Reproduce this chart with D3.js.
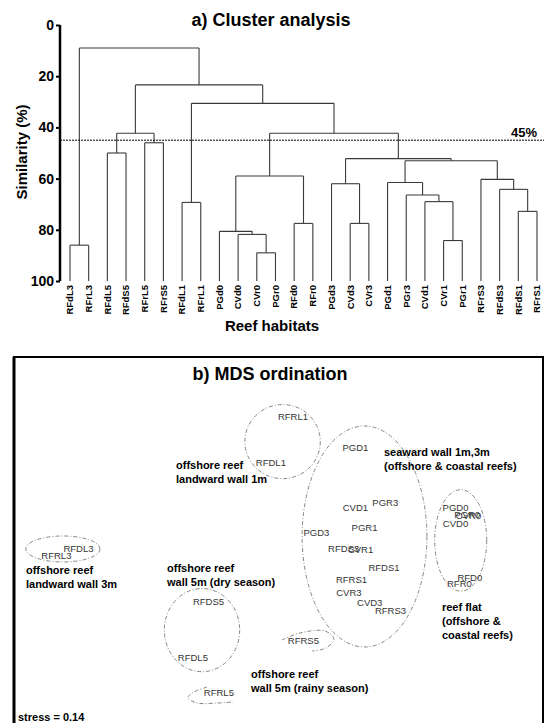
<!DOCTYPE html>
<html>
<head>
<meta charset="utf-8">
<script src="https://cdnjs.cloudflare.com/ajax/libs/d3/7.8.5/d3.min.js"></script>
<style>
body { margin: 0; background: #fff; }
svg { display: block; font-family: "Liberation Sans", Arial, sans-serif; }
</style>
</head>
<body>
<div id="chart"></div>
<script>

//Leaf order of the dendrogram
var leaves = ["RFdL3","RFrL3","RFdL5","RFdS5","RFrL5","RFrS5","RFdL1","RFrL1",
    "PGd0","CVd0","CVr0","PGr0","RFd0","RFr0","PGd3","CVd3","CVr3",
    "PGd1","PGr3","CVd1","CVr1","PGr1","RFrS3","RFdS3","RFdS1","RFrS1"];

//Merges: [child a, child b, similarity %] - merged node i is named "n" + (i+1)
var merges = [
    ["RFdL3","RFrL3",86],
    ["RFdL5","RFdS5",50],
    ["RFrL5","RFrS5",46],
    ["n2","n3",42.3],
    ["RFdL1","RFrL1",69.3],
    ["CVr0","PGr0",89],
    ["CVd0","n6",81.8],
    ["PGd0","n7",80.6],
    ["RFd0","RFr0",77.5],
    ["n8","n9",59],
    ["CVd3","CVr3",77.5],
    ["PGd3","n11",62],
    ["CVr1","PGr1",84.2],
    ["CVd1","n13",69],
    ["PGr3","n14",66.4],
    ["PGd1","n15",61.5],
    ["RFdS1","RFrS1",72.8],
    ["RFdS3","n17",64.2],
    ["RFrS3","n18",60.3],
    ["n16","n19",53],
    ["n12","n20",52.2],
    ["n10","n21",42.3],
    ["n5","n22",30.6],
    ["n4","n23",23.4],
    ["n1","n24",9]
];

var simTicks = [0,20,40,60,80,100];
var cutLevel = 45;

//MDS sample positions (dimension 1, dimension 2)
var samples = ["RFRL1","RFDL1","PGD1","CVD1","PGR3","PGR1","PGD3","RFDS3","CVR1",
    "RFDS1","RFRS1","CVR3","CVD3","RFRS3","PGD0","PGR0","CVR0","CVD0","RFD0","RFR0",
    "RFDL3","RFRL3","RFDS5","RFDL5","RFRS5","RFRL5"];
var dim1 = [0.10,-0.07,0.58,0.58,0.81,0.65,0.28,0.49,0.62,
    0.80,0.55,0.53,0.69,0.85,1.35,1.44,1.45,1.35,1.46,1.38,
    -1.55,-1.72,-0.55,-0.67,0.18,-0.47];
var dim2 = [1.07,0.72,0.83,0.37,0.41,0.22,0.18,0.06,0.05,
    -0.09,-0.18,-0.28,-0.36,-0.42,0.37,0.32,0.31,0.25,-0.17,-0.21,
    0.06,0.00,-0.35,-0.78,-0.65,-1.05];

//Group outlines: centre and radii in MDS units
var groupCx = [0.02,0.65,1.39,-1.67,-0.60];
var groupCy = [0.88,0.15,0.12,0.054,-0.57];
var groupRx = [0.29,0.48,0.20,0.285,0.29];
var groupRy = [0.285,0.85,0.39,0.10,0.32];

//Open outlines round the two single samples
var rfrs5Outline = [[0.015,-0.646],[0.154,-0.592],[0.346,-0.577],[0.415,-0.638],[0.354,-0.708],[0.246,-0.731]];
var rfrl5Outline = [[-0.562,-1.008],[-0.677,-1.054],[-0.708,-1.092],[-0.638,-1.131],[-0.485,-1.131],[-0.362,-1.123]];

//Group names
var groupText = [
    ["offshore reef","landward wall 1m"],
    ["seaward wall 1m,3m","(offshore & coastal reefs)"],
    ["offshore reef","landward wall 3m"],
    ["offshore reef","wall 5m (dry season)"],
    ["reef flat","(offshore &","coastal reefs)"],
    ["offshore reef","wall 5m (rainy season)"]
];
var groupTextX = [-0.80,0.80,-1.954,-0.869,1.246,-0.223];
var groupTextY = [0.669,0.769,-0.138,-0.123,-0.423,-0.938];

var width = 544;
var height = 723;

var svg = d3.select("#chart")
    .append("svg")
    .attr("width",width)
    .attr("height",height);

//////////// a) Cluster analysis ////////////

var x = d3.scalePoint()
    .domain(leaves)
    .range([70,537]);

var y = d3.scaleLinear()
    .domain([0,100])
    .range([25,281]);

svg.append("text")
    .attr("x",271)
    .attr("y",26)
    .attr("text-anchor","middle")
    .style("font-size","18px")
    .style("font-weight","bold")
    .text("a) Cluster analysis");

//Build the elbow segments
var pos = {};
leaves.forEach(function(d) {
    pos[d] = {x: x(d), h: 100};
});

var segs = [];
merges.forEach(function(m,i) {
    var a = pos[m[0]];
    var b = pos[m[1]];
    segs.push([a.x,y(a.h),a.x,y(m[2])]);
    segs.push([b.x,y(b.h),b.x,y(m[2])]);
    segs.push([a.x,y(m[2]),b.x,y(m[2])]);
    pos["n" + (i + 1)] = {x: (a.x + b.x) / 2, h: m[2]};
});

svg.append("g")
    .selectAll("line")
    .data(segs)
    .enter()
    .append("line")
    .attr("x1",function(d) { return d[0]; })
    .attr("y1",function(d) { return d[1]; })
    .attr("x2",function(d) { return d[2]; })
    .attr("y2",function(d) { return d[3]; })
    .style("stroke","#3a3a3a")
    .style("stroke-width",1.1);

//Cut level
svg.append("line")
    .attr("x1",60)
    .attr("x2",544)
    .attr("y1",y(cutLevel))
    .attr("y2",y(cutLevel))
    .style("stroke","#000")
    .style("stroke-width",1)
    .style("stroke-dasharray","2,1");

svg.append("text")
    .attr("x",537)
    .attr("y",y(cutLevel) - 3)
    .attr("text-anchor","end")
    .style("font-size","13px")
    .style("font-weight","bold")
    .text(cutLevel + "%");

//Y axis
var yAxis = svg.append("g")
    .attr("transform","translate(60,0)")
    .call(d3.axisLeft(y).tickValues(simTicks).tickSize(4).tickPadding(2));

yAxis.select(".domain")
    .attr("d","M0," + y(0) + "V" + y(100))
    .style("stroke","#000")
    .style("stroke-width",2.5);
yAxis.selectAll(".tick line")
    .style("stroke","#000")
    .style("stroke-width",2);
yAxis.selectAll(".tick text")
    .style("font-size","14px")
    .style("font-weight","bold")
    .style("font-family","'Liberation Sans', Arial, sans-serif")
    .style("fill","#000");

svg.append("text")
    .attr("transform","translate(27,152) rotate(-90)")
    .attr("text-anchor","middle")
    .style("font-size","15px")
    .style("font-weight","bold")
    .text("Similarity (%)");

//Leaf labels
svg.append("g")
    .selectAll("text")
    .data(leaves)
    .enter()
    .append("text")
    .attr("transform",function(d) {
        return "translate(" + x(d) + ",285) rotate(-90)";
    })
    .attr("dy","0.35em")
    .attr("text-anchor","end")
    .style("font-size","9.5px")
    .style("font-weight","bold")
    .text(function(d) { return d; });

svg.append("text")
    .attr("x",272)
    .attr("y",331)
    .attr("text-anchor","middle")
    .style("font-size","15px")
    .style("font-weight","bold")
    .text("Reef habitats");

//////////// b) MDS ordination ////////////

var mx = d3.scaleLinear()
    .domain([-2,2])
    .range([20,540]);

var my = d3.scaleLinear()
    .domain([-1.2,1.2])
    .range([712,400]);

svg.append("rect")
    .attr("x",14)
    .attr("y",357)
    .attr("width",529)
    .attr("height",380)
    .style("fill","none")
    .style("stroke","#000")
    .style("stroke-width",2);

svg.append("line")
    .attr("x1",14)
    .attr("x2",14)
    .attr("y1",357)
    .attr("y2",723)
    .style("stroke","#000")
    .style("stroke-width",3);

svg.append("text")
    .attr("x",270)
    .attr("y",380)
    .attr("text-anchor","middle")
    .style("font-size","18px")
    .style("font-weight","bold")
    .text("b) MDS ordination");

var outline = {
    stroke: "#777",
    width: 0.9,
    dash: "4,2,1,2"
};

svg.append("g")
    .selectAll("ellipse")
    .data(groupCx)
    .enter()
    .append("ellipse")
    .attr("cx",function(d) { return mx(d); })
    .attr("cy",function(d,i) { return my(groupCy[i]); })
    .attr("rx",function(d,i) { return mx(groupRx[i]) - mx(0); })
    .attr("ry",function(d,i) { return my(0) - my(groupRy[i]); })
    .style("fill","none")
    .style("stroke",outline.stroke)
    .style("stroke-width",outline.width)
    .style("stroke-dasharray",outline.dash);

var openLine = d3.line()
    .x(function(d) { return mx(d[0]); })
    .y(function(d) { return my(d[1]); })
    .curve(d3.curveCatmullRom);

svg.append("g")
    .selectAll("path")
    .data([rfrs5Outline,rfrl5Outline])
    .enter()
    .append("path")
    .attr("d",openLine)
    .style("fill","none")
    .style("stroke",outline.stroke)
    .style("stroke-width",outline.width)
    .style("stroke-dasharray",outline.dash);

//Sample labels
svg.append("g")
    .selectAll("text")
    .data(samples)
    .enter()
    .append("text")
    .attr("x",function(d,i) { return mx(dim1[i]); })
    .attr("y",function(d,i) { return my(dim2[i]); })
    .attr("dy","0.35em")
    .attr("text-anchor","middle")
    .style("font-size","9.5px")
    .style("fill","#333")
    .text(function(d) { return d; });

//Group names
var groups = svg.append("g")
    .selectAll("text")
    .data(groupText)
    .enter()
    .append("text")
    .attr("x",function(d,i) { return mx(groupTextX[i]); })
    .attr("y",function(d,i) { return my(groupTextY[i]); })
    .style("font-size","11px")
    .style("font-weight","bold");

groups.selectAll("tspan")
    .data(function(d) { return d; })
    .enter()
    .append("tspan")
    .attr("x",function() { return d3.select(this.parentNode).attr("x"); })
    .attr("dy",function(d,i) { return i == 0 ? 0 : 14; })
    .text(function(d) { return d; });

svg.append("text")
    .attr("x",18)
    .attr("y",721)
    .style("font-size","11px")
    .style("font-weight","bold")
    .text("stress = 0.14");

</script>
</body>
</html>
